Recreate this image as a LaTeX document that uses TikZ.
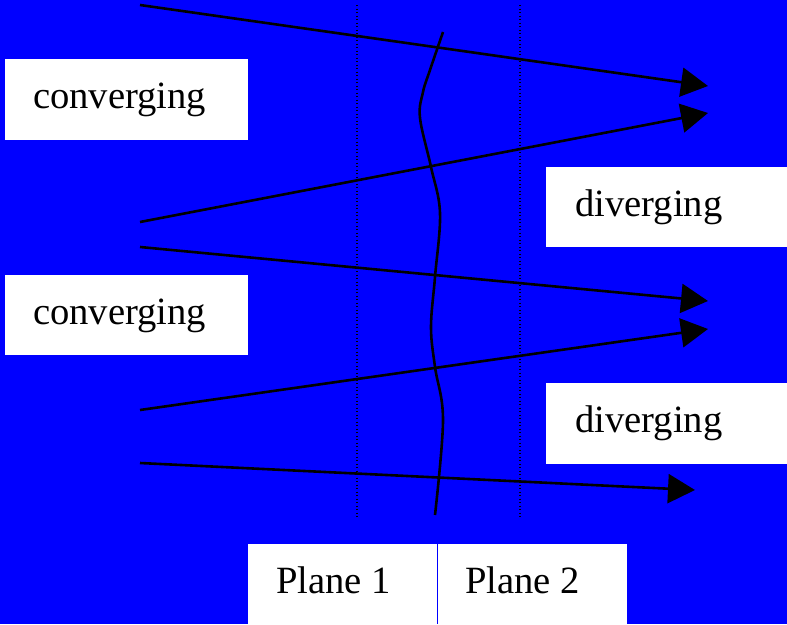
\documentclass[tikz,border=0pt]{standalone}
\usepackage{fontspec}
\setmainfont{Liberation Serif}
\usetikzlibrary{arrows.meta}
\definecolor{bgblue}{RGB}{0,0,255}
\tikzset{
  box/.style={fill=white, draw=none},
  lbl/.style={anchor=base west, inner sep=0pt, font=\fontsize{38.6}{44}\selectfont, text=black},
  ray/.style={draw=black, line width=2.6pt, -{Triangle[length=27pt,width=29pt]}},
  plane/.style={draw=black, line width=1.3pt, dash pattern=on 1.3pt off 2.2pt},
  wave/.style={draw=black, line width=2.6pt}
}
\begin{document}
\begin{tikzpicture}[x=1pt,y=-1pt]
\fill[bgblue] (0,0) rectangle (787,624);
\useasboundingbox (0,0) rectangle (787,624);
% white boxes
\fill[box] (5,59) rectangle (248,140);
\fill[box] (5,275) rectangle (248,355);
\fill[box] (546,167) rectangle (787,247);
\fill[box] (546,383) rectangle (787,464);
\fill[box] (248,544) rectangle (437,624);
\fill[box] (438,544) rectangle (627,624);
% labels
\node[lbl] (c1) at (33,108) {converging};
\node[lbl] (c2) at (33,324) {converging};
\node[lbl] (d1) at (575,216) {diverging};
\node[lbl] (d2) at (575,432) {diverging};
\node[lbl] (p1) at (276,593) {Plane 1};
\node[lbl] (p2) at (465,593) {Plane 2};
% planes
\coordinate (pa1) at (357,5);
\coordinate (pa2) at (357,517);
\coordinate (pb1) at (520,5);
\coordinate (pb2) at (520,517);
\draw[plane] (pa1) -- (pa2);
\draw[plane] (pb1) -- (pb2);
% wavefront
\draw[wave] plot[smooth, tension=0.6] coordinates {(443,32) (430,70) (423,92) (420,118) (431,167) (440,213) (435,277) (431,327) (435,367) (443,420) (435,515)};
% rays
\coordinate (s1) at (140,5);   \coordinate (e1) at (708,86);
\coordinate (s2) at (140,222); \coordinate (e2) at (708,113);
\coordinate (s3) at (140,247); \coordinate (e3) at (708,301);
\coordinate (s4) at (140,410); \coordinate (e4) at (708,329);
\coordinate (s5) at (140,463); \coordinate (e5) at (695,490);
\draw[ray] (s1) -- (e1);
\draw[ray] (s2) -- (e2);
\draw[ray] (s3) -- (e3);
\draw[ray] (s4) -- (e4);
\draw[ray] (s5) -- (e5);
\end{tikzpicture}
\end{document}
